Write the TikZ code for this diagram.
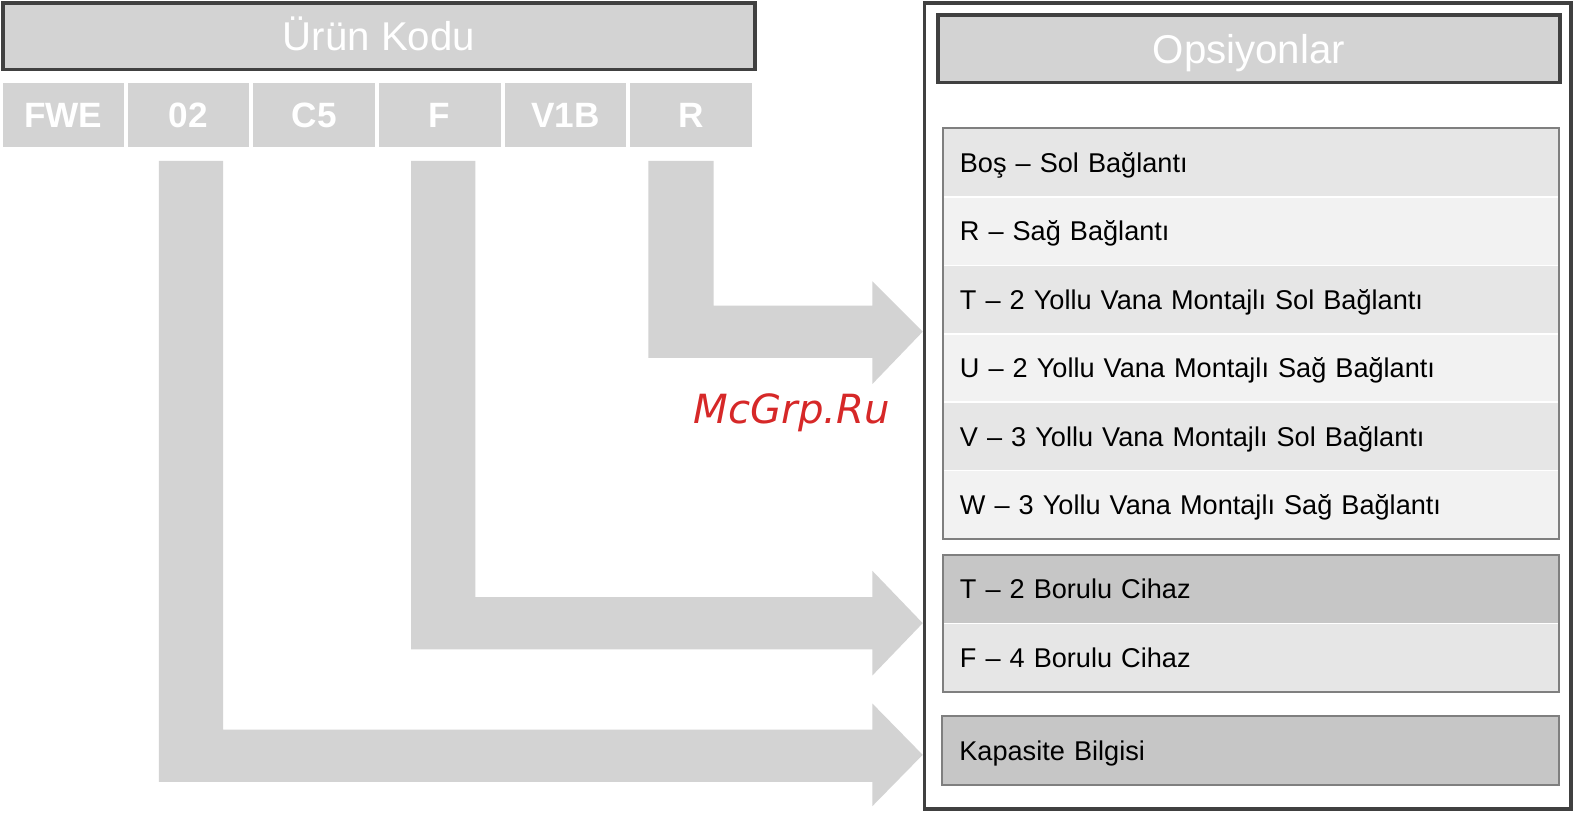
\documentclass[tikz,border=0pt]{standalone}
\usepackage{fontspec}
\setmainfont{Liberation Sans}
\newfontfamily\wmfont{DejaVu Sans}
\definecolor{dk}{HTML}{404040}
\definecolor{lg}{HTML}{D3D3D3}
\definecolor{rowa}{HTML}{E6E6E6}
\definecolor{rowb}{HTML}{F2F2F2}
\definecolor{rowc}{HTML}{C6C6C6}
\definecolor{bord}{HTML}{7F7F7F}
\definecolor{wm}{HTML}{D62828}
\begin{document}
\begin{tikzpicture}[x=1pt,y=-1pt,
  titlebox/.style={draw=dk, line width=3.5pt, fill=lg, text=white, inner sep=0pt,
    font=\fontsize{40}{48}\selectfont, text height=29pt, text depth=0pt},
  cell/.style={fill=lg, text=white, inner sep=0pt, minimum width=121pt, minimum height=63pt,
    font=\bfseries\fontsize{35}{42}\selectfont, text height=25pt, text depth=0pt},
  optrow/.style={inner ysep=0pt, inner xsep=17pt, text width=579pt, align=left, minimum height=68pt,
    font=\fontsize{27}{32}\selectfont, text height=19.5pt, text depth=0pt},
  bigarrow/.style={fill=lg, draw=none},
  listframe/.style={draw=bord, line width=2pt},
  sep/.style={draw=white, line width=1.5pt}
]
\useasboundingbox (0,0) rectangle (1568,808);

% arrows
\path[bigarrow] (645,160) -- (710,160) -- (710,304) -- (868,304) -- (868,280) -- (918,330) -- (868,382) -- (868,356) -- (645,356) -- cycle;
\path[bigarrow] (409,160) -- (473,160) -- (473,594) -- (868,594) -- (868,568) -- (918,620) -- (868,672) -- (868,646) -- (409,646) -- cycle;
\path[bigarrow] (158,160) -- (222,160) -- (222,726) -- (868,726) -- (868,700) -- (918,751) -- (868,802) -- (868,778) -- (158,778) -- cycle;

% left: product code
\node[titlebox, minimum width=748pt, minimum height=66pt] (urun) at (377,36) {Ürün Kodu};
\node[cell] (cFWE) at (63,114.5) {FWE};
\node[cell] (c02) at (187.5,114.5) {02};
\node[cell] (cC5) at (312.5,114.5) {C5};
\node[cell] (cF) at (437.5,114.5) {F};
\node[cell] (cV1B) at (562.5,114.5) {V1B};
\node[cell] (cR) at (687.5,114.5) {R};

% right panel
\draw[draw=dk, line width=3.5pt] (920,3) rectangle (1563,805);
\node[titlebox, minimum width=619pt, minimum height=67pt] (ops) at (1242.5,48.5) {Opsiyonlar};

\node[optrow, fill=rowa] (r1) at (1244.5,162) {Boş – Sol Bağlantı};
\node[optrow, fill=rowb] (r2) at (1244.5,230) {R – Sağ Bağlantı};
\node[optrow, fill=rowa] (r3) at (1244.5,298) {T – 2 Yollu Vana Montajlı Sol Bağlantı};
\node[optrow, fill=rowb] (r4) at (1244.5,366) {U – 2 Yollu Vana Montajlı Sağ Bağlantı};
\node[optrow, fill=rowa] (r5) at (1244.5,434) {V – 3 Yollu Vana Montajlı Sol Bağlantı};
\node[optrow, fill=rowb] (r6) at (1244.5,502) {W – 3 Yollu Vana Montajlı Sağ Bağlantı};
\foreach \a/\b in {r1/r2,r2/r3,r3/r4,r4/r5,r5/r6}
  \draw[sep] (\a.south west) -- (\a.south east);
\draw[listframe] (r1.north west) rectangle (r6.south east);

\node[optrow, fill=rowc] (t2) at (1244.5,586) {T – 2 Borulu Cihaz};
\node[optrow, fill=rowa] (f4) at (1244.5,654) {F – 4 Borulu Cihaz};
\draw[sep] (t2.south west) -- (t2.south east);
\draw[listframe] (t2.north west) rectangle (f4.south east);

\node[optrow, fill=rowc] (kap) at (1244,747) {Kapasite Bilgisi};
\draw[listframe] (kap.north west) rectangle (kap.south east);

% watermark
\node[anchor=base west, inner sep=0pt, text=wm, font=\wmfont\itshape\fontsize{40}{48}\selectfont] (wmk) at (690,421) {McGrp.Ru};
\end{tikzpicture}
\end{document}
